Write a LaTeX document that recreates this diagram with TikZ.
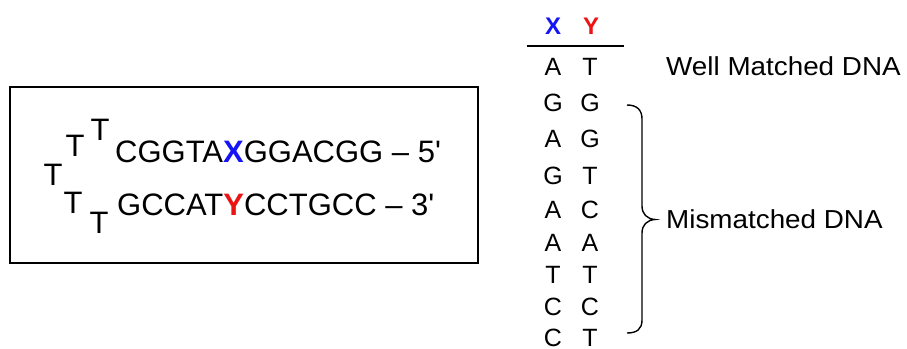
\documentclass[tikz,border=0pt]{standalone}
\usepackage{fontspec}
\setmainfont[Mapping=]{Liberation Sans}
\definecolor{xblue}{RGB}{20,20,245}
\definecolor{yred}{RGB}{235,20,20}
\newcommand{\sq}{\textquotesingle}
\tikzset{
  seq/.style={inner sep=0pt, anchor=base west, font=\fontsize{31}{31}\selectfont},
  loopT/.style={inner sep=0pt, anchor=base, font=\fontsize{31}{31}\selectfont},
  base/.style={inner sep=0pt, anchor=base, font=\fontsize{25}{25}\selectfont},
  head/.style={inner sep=0pt, anchor=base, font=\fontsize{24}{24}\selectfont\bfseries},
  lbl/.style={inner sep=0pt, anchor=base west, xscale=1.07, font=\fontsize{26}{26}\selectfont},
  X/.style={text=xblue},
  Y/.style={text=yred}
}
\begin{document}
\begin{tikzpicture}[x=1pt,y=-1pt]
\useasboundingbox (0,0) rectangle (907,348);
% box
\draw[line width=1.3pt] (10,87) rectangle (478,263);
% hairpin loop
\node[loopT] (t1) at (100,140) {T};
\node[loopT] (t2) at (75,156) {T};
\node[loopT] (t3) at (53,185) {T};
\node[loopT] (t4) at (73,213) {T};
\node[loopT] (t5) at (99,233) {T};
% strands
\node[seq] (s1) at (115,162) {CGGTA\textcolor{xblue}{\textbf{X}}GGACGG \symbol{"2013} 5\sq};
\node[seq] (s2) at (117,215) {GCCAT\textcolor{yred}{\textbf{Y}}CCTGCC \symbol{"2013} 3\sq};
% table header
\node[head,X] (hx) at (553,34) {X};
\node[head,Y] (hy) at (591,34) {Y};
\coordinate (r1) at (527,46);
\coordinate (r2) at (624,46);
\draw[line width=1.2pt] (r1) -- (r2);
% rows
\foreach \a/\b/\yy [count=\i] in {A/T/75, G/G/111, A/G/147, G/T/184, A/C/218, A/A/251, T/T/283, C/C/315, C/T/346}{
  \node[base] (xa\i) at (553,\yy) {\a};
  \node[base] (yb\i) at (590,\yy) {\b};
}
% labels
\node[lbl] (well) at (666,75) {Well Matched DNA};
\node[lbl] (mis) at (666,228) {Mismatched DNA};
% brace
\coordinate (bt) at (627,105);
\coordinate (bb) at (627,333);
\coordinate (tip) at (655,219.5);
\draw[line width=1.4pt]
  (bt) .. controls (637,105) and (642,110) .. (642,119)
  -- (642,206) .. controls (642,214) and (647,219) .. (tip)
  .. controls (647,220) and (642,225) .. (642,233)
  -- (642,320) .. controls (642,329) and (637,333) .. (bb);
\end{tikzpicture}
\end{document}
